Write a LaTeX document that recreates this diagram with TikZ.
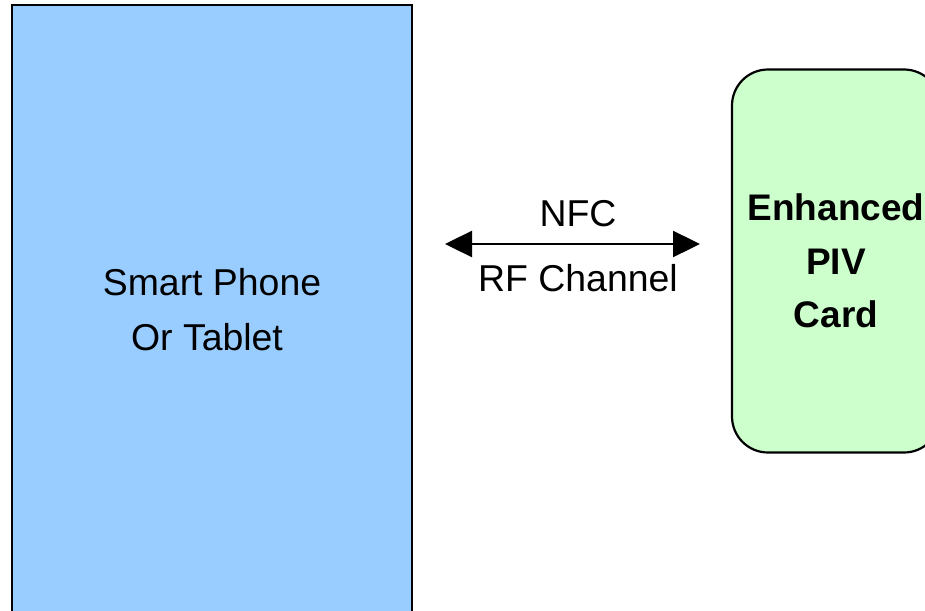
\documentclass[tikz,border=0pt]{standalone}
\usepackage{fontspec}
\setmainfont{Liberation Sans}
\usetikzlibrary{arrows.meta,positioning}
\definecolor{phoneblue}{HTML}{99CCFF}
\definecolor{cardgreen}{HTML}{CCFFCC}
\tikzset{
 device/.style={rectangle,draw,line width=2.6pt,fill=phoneblue,minimum width=400pt,minimum height=610pt,inner sep=0,align=center,font=\fontsize{37.4}{55}\selectfont},
 card/.style={rectangle,rounded corners=36pt,draw,line width=2.2pt,fill=cardgreen,minimum width=208pt,minimum height=383pt,inner sep=0,align=center,font=\fontsize{37}{53.5}\selectfont\bfseries},
 link/.style={line width=2.4pt,{Triangle[length=27pt,width=26pt]}-{Triangle[length=27pt,width=26pt]}},
 chanlabel/.style={font=\fontsize{37.4}{40}\selectfont,anchor=base,inner sep=0}
}
\begin{document}
\begin{tikzpicture}[x=1pt,y=-1pt]
\useasboundingbox (0,0) rectangle (925,610);
\clip (0,0) rectangle (925,610);
\node[device] (phone) at (212,310) {Smart Phone\\Or Tablet\hspace*{10pt}};
\node[card] (piv) at (836,261) {Enhanced\\PIV\\Card};
\coordinate (nfcL) at (445,244);
\coordinate (nfcR) at (700,244);
\draw[link] (nfcL) -- (nfcR);
\node[chanlabel] (nfc) at (578,226) {NFC};
\node[chanlabel] (rf) at (578,291) {RF Channel};
\end{tikzpicture}
\end{document}
